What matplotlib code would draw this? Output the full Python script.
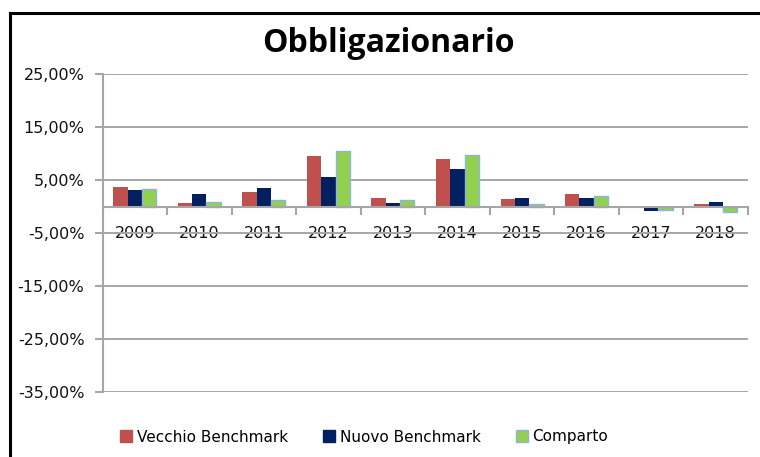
import numpy as np
import matplotlib.pyplot as plt
from matplotlib.lines import Line2D
from matplotlib.patches import Patch
from matplotlib.ticker import FuncFormatter, FixedLocator

# DATA
years = ["2009", "2010", "2011", "2012", "2013", "2014", "2015", "2016", "2017", "2018"]
vecchio = [3.7, 0.7, 2.8, 9.5, 1.6, 8.9, 1.35, 2.3, 0.0, 0.45]
nuovo = [3.1, 2.3, 3.4, 5.5, 0.7, 7.0, 1.6, 1.6, -0.8, 0.8]
comparto = [3.3, 0.9, 1.2, 10.5, 1.2, 9.7, 0.4, 2.0, -0.65, -1.0]
series_names = ["Vecchio Benchmark", "Nuovo Benchmark", "Comparto"]
yticks = [-35, -25, -15, -5, 5, 15, 25]

c_red = "#C0504D"
c_navy = "#002060"
c_green = "#92D050"
c_edge = "#8DB3E2"
c_grid = "#A6A6A6"

plt.rcParams['font.family'] = 'DejaVu Sans'

W, H = 760, 457
fig = plt.figure(figsize=(W / 100, H / 100), dpi=100)
ax = fig.add_axes([102.5 / W, 1 - 392 / H, (748 - 102.5) / W, (392 - 74) / H])

x = np.arange(len(years))
bw = 1 / 4.5
ax.bar(x - bw, np.array(vecchio) / 100, bw, color=c_red, zorder=3)
ax.bar(x, np.array(nuovo) / 100, bw, color=c_navy, zorder=3)
ax.bar(x + bw, np.array(comparto) / 100, bw, color=c_green,
       edgecolor=c_edge, linewidth=1, zorder=3)

ax.set_xlim(-0.5, len(years) - 0.5)
ax.set_ylim(-0.35, 0.25)

# y axis
ax.yaxis.set_major_locator(FixedLocator([v / 100 for v in yticks]))
ax.yaxis.set_major_formatter(FuncFormatter(lambda v, p: f"{v * 100:.2f}%".replace(".", ",")))
ax.tick_params(axis="y", length=6, width=1.5, color=c_grid, pad=7,
               labelsize=11.5, labelcolor="#111111")
ax.grid(axis="y", color=c_grid, linewidth=1.4, zorder=0)

# x axis at zero, tick marks between categories
for s in ["top", "right"]:
    ax.spines[s].set_visible(False)
ax.spines["left"].set_color(c_grid)
ax.spines["left"].set_linewidth(1.5)
ax.spines["bottom"].set_position(("data", 0))
ax.spines["bottom"].set_color(c_grid)
ax.spines["bottom"].set_linewidth(1.5)
ax.spines["bottom"].set_zorder(4)
ax.set_xticks(x)
ax.set_xticklabels(years)
ax.set_xticks(np.arange(len(years) + 1) - 0.5, minor=True)
ax.tick_params(axis="x", which="major", length=0, pad=14, labelsize=11.5,
               labelcolor="#111111")
ax.tick_params(axis="x", which="minor", length=6, width=1.5, color=c_grid, direction="out")

fig.text(388 / W, 1 - 44 / H, "Obbligazionario", ha="center", va="center",
         fontsize=23, fontweight="bold", family="Open Sans")

handles = [Patch(facecolor=c_red, edgecolor=c_red),
           Patch(facecolor=c_navy, edgecolor=c_navy),
           Patch(facecolor=c_green, edgecolor=c_edge)]
fig.legend(handles, series_names, loc="center", bbox_to_anchor=(364 / W, 1 - 437 / H),
           ncol=3, frameon=False, fontsize=11, handlelength=0.8, handleheight=0.8,
           handletextpad=0.3, columnspacing=2.3)

# outer frame (top and left only)
fig.add_artist(Line2D([9.5 / W, 1], [1 - 13 / H, 1 - 13 / H], color="black", linewidth=2.2))
fig.add_artist(Line2D([9.5 / W, 9.5 / W], [0, 1 - 13 / H], color="black", linewidth=2.2))

fig.savefig("out.png", dpi=100)
